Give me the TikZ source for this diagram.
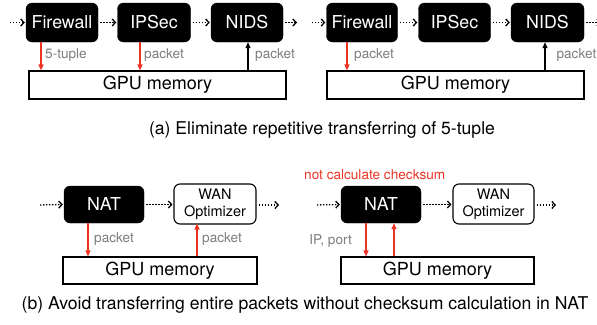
\documentclass[tikz,border=0pt]{standalone}
\usepackage{fontspec}
\setmainfont{TeX Gyre Heros}
\usetikzlibrary{arrows.meta,calc}
\definecolor{hotred}{RGB}{236,52,36}
\definecolor{labelgray}{RGB}{125,125,125}
\tikzset{
  nf/.style={draw=black,fill=black,text=white,rounded corners=6pt,inner sep=0pt,
    font=\fontsize{17.8}{20}\selectfont},
  wanbox/.style={draw=black,line width=1.1pt,fill=white,rounded corners=6pt,inner sep=0pt,
    align=center,font=\fontsize{14.5}{17}\selectfont},
  membox/.style={draw=black,line width=1.1pt,inner sep=0pt,
    font=\fontsize{18}{21}\selectfont},
  flow/.style={line width=1.3pt,dash pattern=on 1.3pt off 1.7pt,
    -{Straight Barb[length=3.2pt,width=7pt,line width=1.3pt]},shorten <=2pt,shorten >=1pt},
  redflow/.style={draw=hotred,line width=1.3pt,-{Triangle[length=6pt,width=5pt]}},
  blkflow/.style={draw=black,line width=1.3pt,-{Triangle[length=6pt,width=5pt]}},
  lbl/.style={text=labelgray,inner sep=0pt,font=\fontsize{13.6}{16}\selectfont},
  caption/.style={inner sep=0pt,font=\fontsize{17.6}{21}\selectfont},
}
\begin{document}
\begin{tikzpicture}[x=1pt,y=-1pt]
\useasboundingbox (0,0) rectangle (597,324);

% ---- (a) left chain ----
\node[nf,minimum width=72pt,minimum height=39pt] (fw1) at (62,22.5) {Firewall};
\node[nf,minimum width=73pt,minimum height=39pt] (ip1) at (154,22.5) {IPSec};
\node[nf,minimum width=72pt,minimum height=39pt] (nd1) at (247,22.5) {NIDS};
\node[membox,minimum width=257pt,minimum height=28pt] (gpu1) at (157.5,85) {GPU memory};
\coordinate (in1) at (8,22.5);
\coordinate (out1) at (298,22.5);
\draw[flow] (in1) -- (fw1.west);
\draw[flow] (fw1) -- (ip1);
\draw[flow] (ip1) -- (nd1);
\draw[flow] (nd1.east) -- (out1);
\draw[redflow] ([xshift=-21pt]fw1.south) -- ([xshift=-21pt]fw1.south |- gpu1.north);
\draw[redflow] ([xshift=-14pt]ip1.south) -- ([xshift=-14pt]ip1.south |- gpu1.north);
\draw[blkflow] ([xshift=1pt]nd1.south |- gpu1.north) -- ([xshift=1pt]nd1.south);
\node[lbl,anchor=west] (l1) at (45,55) {5-tuple};
\node[lbl,anchor=west] (l2) at (144,55) {packet};
\node[lbl,anchor=west] (l3) at (255,55) {packet};

% ---- (a) right chain ----
\node[nf,minimum width=71pt,minimum height=39pt] (fw2) at (362,22.5) {Firewall};
\node[nf,minimum width=72pt,minimum height=39pt] (ip2) at (454.5,22.5) {IPSec};
\node[nf,minimum width=73pt,minimum height=39pt] (nd2) at (547.5,22.5) {NIDS};
\node[membox,minimum width=257pt,minimum height=28pt] (gpu2) at (455.5,85) {GPU memory};
\coordinate (in2) at (310,22.5);
\coordinate (out2) at (602,22.5);
\draw[flow] (in2) -- (fw2.west);
\draw[flow] (fw2) -- (ip2);
\draw[flow] (ip2) -- (nd2);
\draw[flow] (nd2.east) -- (out2);
\draw[redflow] ([xshift=-15pt]fw2.south) -- ([xshift=-15pt]fw2.south |- gpu2.north);
\draw[blkflow] ([xshift=-2.5pt]nd2.south |- gpu2.north) -- ([xshift=-2.5pt]nd2.south);
\node[lbl,anchor=west] (l4) at (354,55) {packet};
\node[lbl,anchor=east] (l5) at (596.5,55) {packet};

\node[caption] (capa) at (322,130) {(a) Eliminate repetitive transferring of 5-tuple};

% ---- (b) left chain ----
\node[nf,minimum width=80pt,minimum height=37pt] (nat1) at (104,204.5) {NAT};
\node[wanbox,minimum width=82pt,minimum height=40pt] (wan1) at (215,204) {WAN\\Optimizer};
\node[membox,minimum width=194pt,minimum height=27pt] (gpu3) at (160,270.5) {GPU memory};
\coordinate (in3) at (38,205);
\coordinate (out3) at (280,205);
\draw[flow] (in3) -- (nat1.west);
\draw[flow] (nat1.east) -- (nat1.east -| wan1.west);
\draw[flow] (wan1.east |- out3) -- (out3);
\draw[redflow] ([xshift=-16pt]nat1.south) -- ([xshift=-16pt]nat1.south |- gpu3.north);
\draw[redflow] ([xshift=-18pt]wan1.south |- gpu3.north) -- ([xshift=-18pt,yshift=1pt]wan1.south);
\node[lbl,anchor=west] (l6) at (94,239) {packet};
\node[lbl,anchor=west] (l7) at (202,239) {packet};

% ---- (b) right chain ----
\node[nf,minimum width=80pt,minimum height=37pt] (nat2) at (381,204.5) {NAT};
\node[wanbox,minimum width=81pt,minimum height=40pt] (wan2) at (493.5,204) {WAN\\Optimizer};
\node[membox,minimum width=193pt,minimum height=27pt] (gpu4) at (437.5,270.5) {GPU memory};
\coordinate (in4) at (315,205);
\coordinate (out4) at (557,205);
\draw[flow] (in4) -- (nat2.west);
\draw[flow] (nat2.east) -- (nat2.east -| wan2.west);
\draw[flow] (wan2.east |- out4) -- (out4);
\draw[redflow] ([xshift=-15pt]nat2.south) -- ([xshift=-15pt]nat2.south |- gpu4.north);
\draw[redflow] ([xshift=13pt]nat2.south |- gpu4.north) -- ([xshift=13pt]nat2.south);
\node[lbl,anchor=east] (l8) at (352,241) {IP, port};
\node[lbl,anchor=west,text=hotred] (l9) at (304,175) {not calculate checksum};

\node[caption] (capb) at (305,305) {(b) Avoid transferring entire packets without checksum calculation in NAT};
\end{tikzpicture}
\end{document}
